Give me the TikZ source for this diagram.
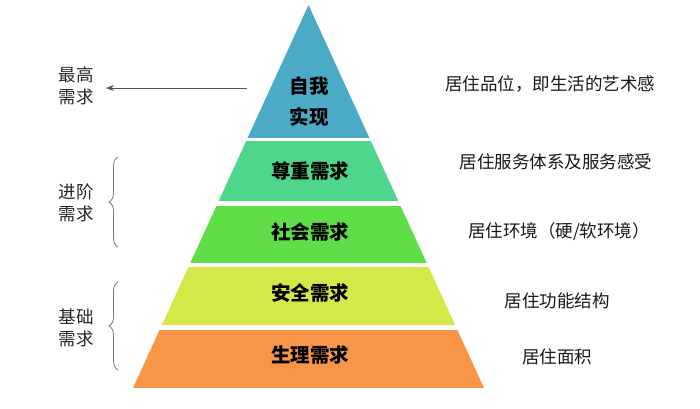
\documentclass[tikz,border=0pt]{standalone}
\usepackage{fontspec}
\setmainfont{Noto Sans CJK SC}
\usetikzlibrary{arrows.meta,decorations.pathreplacing}
\definecolor{cblue}{HTML}{4BAAC6}
\definecolor{cgreenA}{HTML}{4DD68C}
\definecolor{cgreenB}{HTML}{60DE48}
\definecolor{cyellow}{HTML}{D4E848}
\definecolor{corange}{HTML}{F79646}
\definecolor{cgrey}{HTML}{555555}
\tikzset{
  lvl/.style={inner sep=0pt, font=\bfseries\fontsize{19.5}{31}\selectfont, text=black, align=center},
  desc/.style={inner sep=0pt, font=\fontsize{17.5}{21}\selectfont, text=black!90},
  side/.style={inner sep=0pt, font=\fontsize{17.5}{22}\selectfont, text=black!85, align=left},
  arr/.style={draw=cgrey, line width=0.9pt, -{Stealth[length=8pt,width=6pt]}},
  brc/.style={draw=cgrey!80, line width=0.8pt, decorate, decoration={brace, amplitude=9pt}}
}
\begin{document}
\begin{tikzpicture}[x=1pt,y=-1pt]
\useasboundingbox (0,0) rectangle (700,408);
\fill[white] (0,0) rectangle (700,408);
% pyramid layers
\begin{scope}
  \clip (308.5,5) -- (133,388) -- (484,388) -- cycle;
  \fill[cblue]   (100,0)   rectangle (520,138);
  \fill[cgreenA] (100,141) rectangle (520,201);
  \fill[cgreenB] (100,206) rectangle (520,263);
  \fill[cyellow] (100,267) rectangle (520,325);
  \fill[corange] (100,330) rectangle (520,388);
\end{scope}
% level labels
\node[lvl] (l5) at (309,101.5) {自我\\实现};
\node[lvl] (l4) at (310,171) {尊重需求};
\node[lvl] (l3) at (310,232) {社会需求};
\node[lvl] (l2) at (310,293) {安全需求};
\node[lvl] (l1) at (310,355) {生理需求};
% right descriptions
\node[desc] (d5) at (550,84) {居住品位，即生活的艺术感};
\node[desc] (d4) at (556,162) {居住服务体系及服务感受};
\node[desc] (d3) at (559,232) {居住环境（硬/软环境）};
\node[desc] (d2) at (557,301) {居住功能结构};
\node[desc] (d1) at (557,357) {居住面积};
% left labels
\node[side] (s3) at (76,86) {最高\\需求};
\node[side] (s2) at (76,203) {进阶\\需求};
\node[side] (s1) at (76,328) {基础\\需求};
% arrow
\coordinate (astart) at (247,88);
\coordinate (aend) at (106,88);
\draw[arr] (astart) -- (aend);
% braces
\coordinate (b2b) at (118,247);
\coordinate (b2t) at (118,157);
\coordinate (b1b) at (118,370);
\coordinate (b1t) at (118,282);
\draw[brc] (b2b) -- (b2t);
\draw[brc] (b1b) -- (b1t);
\end{tikzpicture}
\end{document}
